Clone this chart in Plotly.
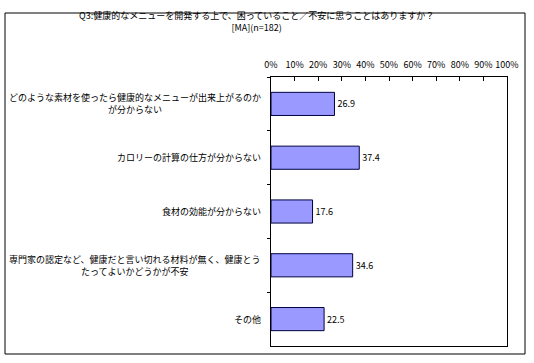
import plotly.graph_objects as go

categories = [
    "どのような素材を使ったら健康的なメニューが出来上がるのか<br>が分からない",
    "カロリーの計算の仕方が分からない",
    "食材の効能が分からない",
    "専門家の認定など、健康だと言い切れる材料が無く、健康とう<br>たってよいかどうかが不安",
    "その他",
]
values = [26.9, 37.4, 17.6, 34.6, 22.5]
x_tick_vals = [0, 10, 20, 30, 40, 50, 60, 70, 80, 90, 100]
x_tick_text = [f"{v}%" for v in x_tick_vals]
title_line1 = "Q3:健康的なメニューを開発する上で、困っていること／不安に思うことはありますか？"
title_line2 = "[MA](n=182)"

FONT = "Noto Sans CJK JP, MS PGothic, sans-serif"
W, H = 534, 363
L, R, T, B = 271, 27, 77, 17
pw, ph = W - L - R, H - T - B

def px_x(x):
    return (x - L) / pw

def px_y(y):
    return (H - B - y) / ph

fig = go.Figure()
fig.add_trace(go.Bar(
    x=values,
    y=categories,
    orientation="h",
    marker=dict(color="#9999FF", line=dict(color="#000040", width=1)),
    width=0.43,
    text=[f"{v:.1f}" for v in values],
    textposition="outside",
    textfont=dict(size=9, color="black", family=FONT),
    cliponaxis=False,
    hoverinfo="skip",
))

annotations = []
for c in categories:
    annotations.append(dict(
        x=0, xref="paper", y=c, yref="y", text=c, showarrow=False,
        xanchor="right", yanchor="middle", align="center", xshift=-8,
        font=dict(size=9, color="black", family=FONT),
    ))
annotations.append(dict(
    x=px_x(256), xref="paper", y=px_y(22), yref="paper",
    text=title_line1 + "<br>" + title_line2,
    showarrow=False, xanchor="center", yanchor="middle", align="center", borderpad=0,
    font=dict(size=9, color="black", family=FONT),
))

fig.update_layout(
    width=W, height=H,
    margin=dict(l=L, r=R, t=T, b=B, pad=0),
    paper_bgcolor="white", plot_bgcolor="white",
    showlegend=False,
    annotations=annotations,
    shapes=[dict(
        type="rect", xref="paper", yref="paper",
        x0=px_x(5), x1=px_x(525), y0=px_y(354), y1=px_y(13),
        line=dict(color="black", width=1), fillcolor="rgba(0,0,0,0)", layer="below",
    )],
    xaxis=dict(
        side="top", range=[0, 100], tickvals=x_tick_vals, ticktext=x_tick_text,
        ticks="inside", ticklen=4, tickcolor="black", showgrid=False, zeroline=False,
        showline=True, linecolor="black", linewidth=1, mirror=True,
        tickfont=dict(size=9, color="black", family=FONT), ticklabelstandoff=4,
        fixedrange=True,
    ),
    yaxis=dict(
        autorange="reversed", showticklabels=False, ticks="outside", ticklen=3,
        tickson="boundaries", tickcolor="black", showgrid=False, zeroline=False,
        showline=True, linecolor="black", linewidth=1, mirror=True, fixedrange=True,
    ),
)

fig.write_html(
    "out.html",
    config={"displayModeBar": False},
    post_script="document.body.style.margin='0';document.body.style.overflow='hidden';",
)
